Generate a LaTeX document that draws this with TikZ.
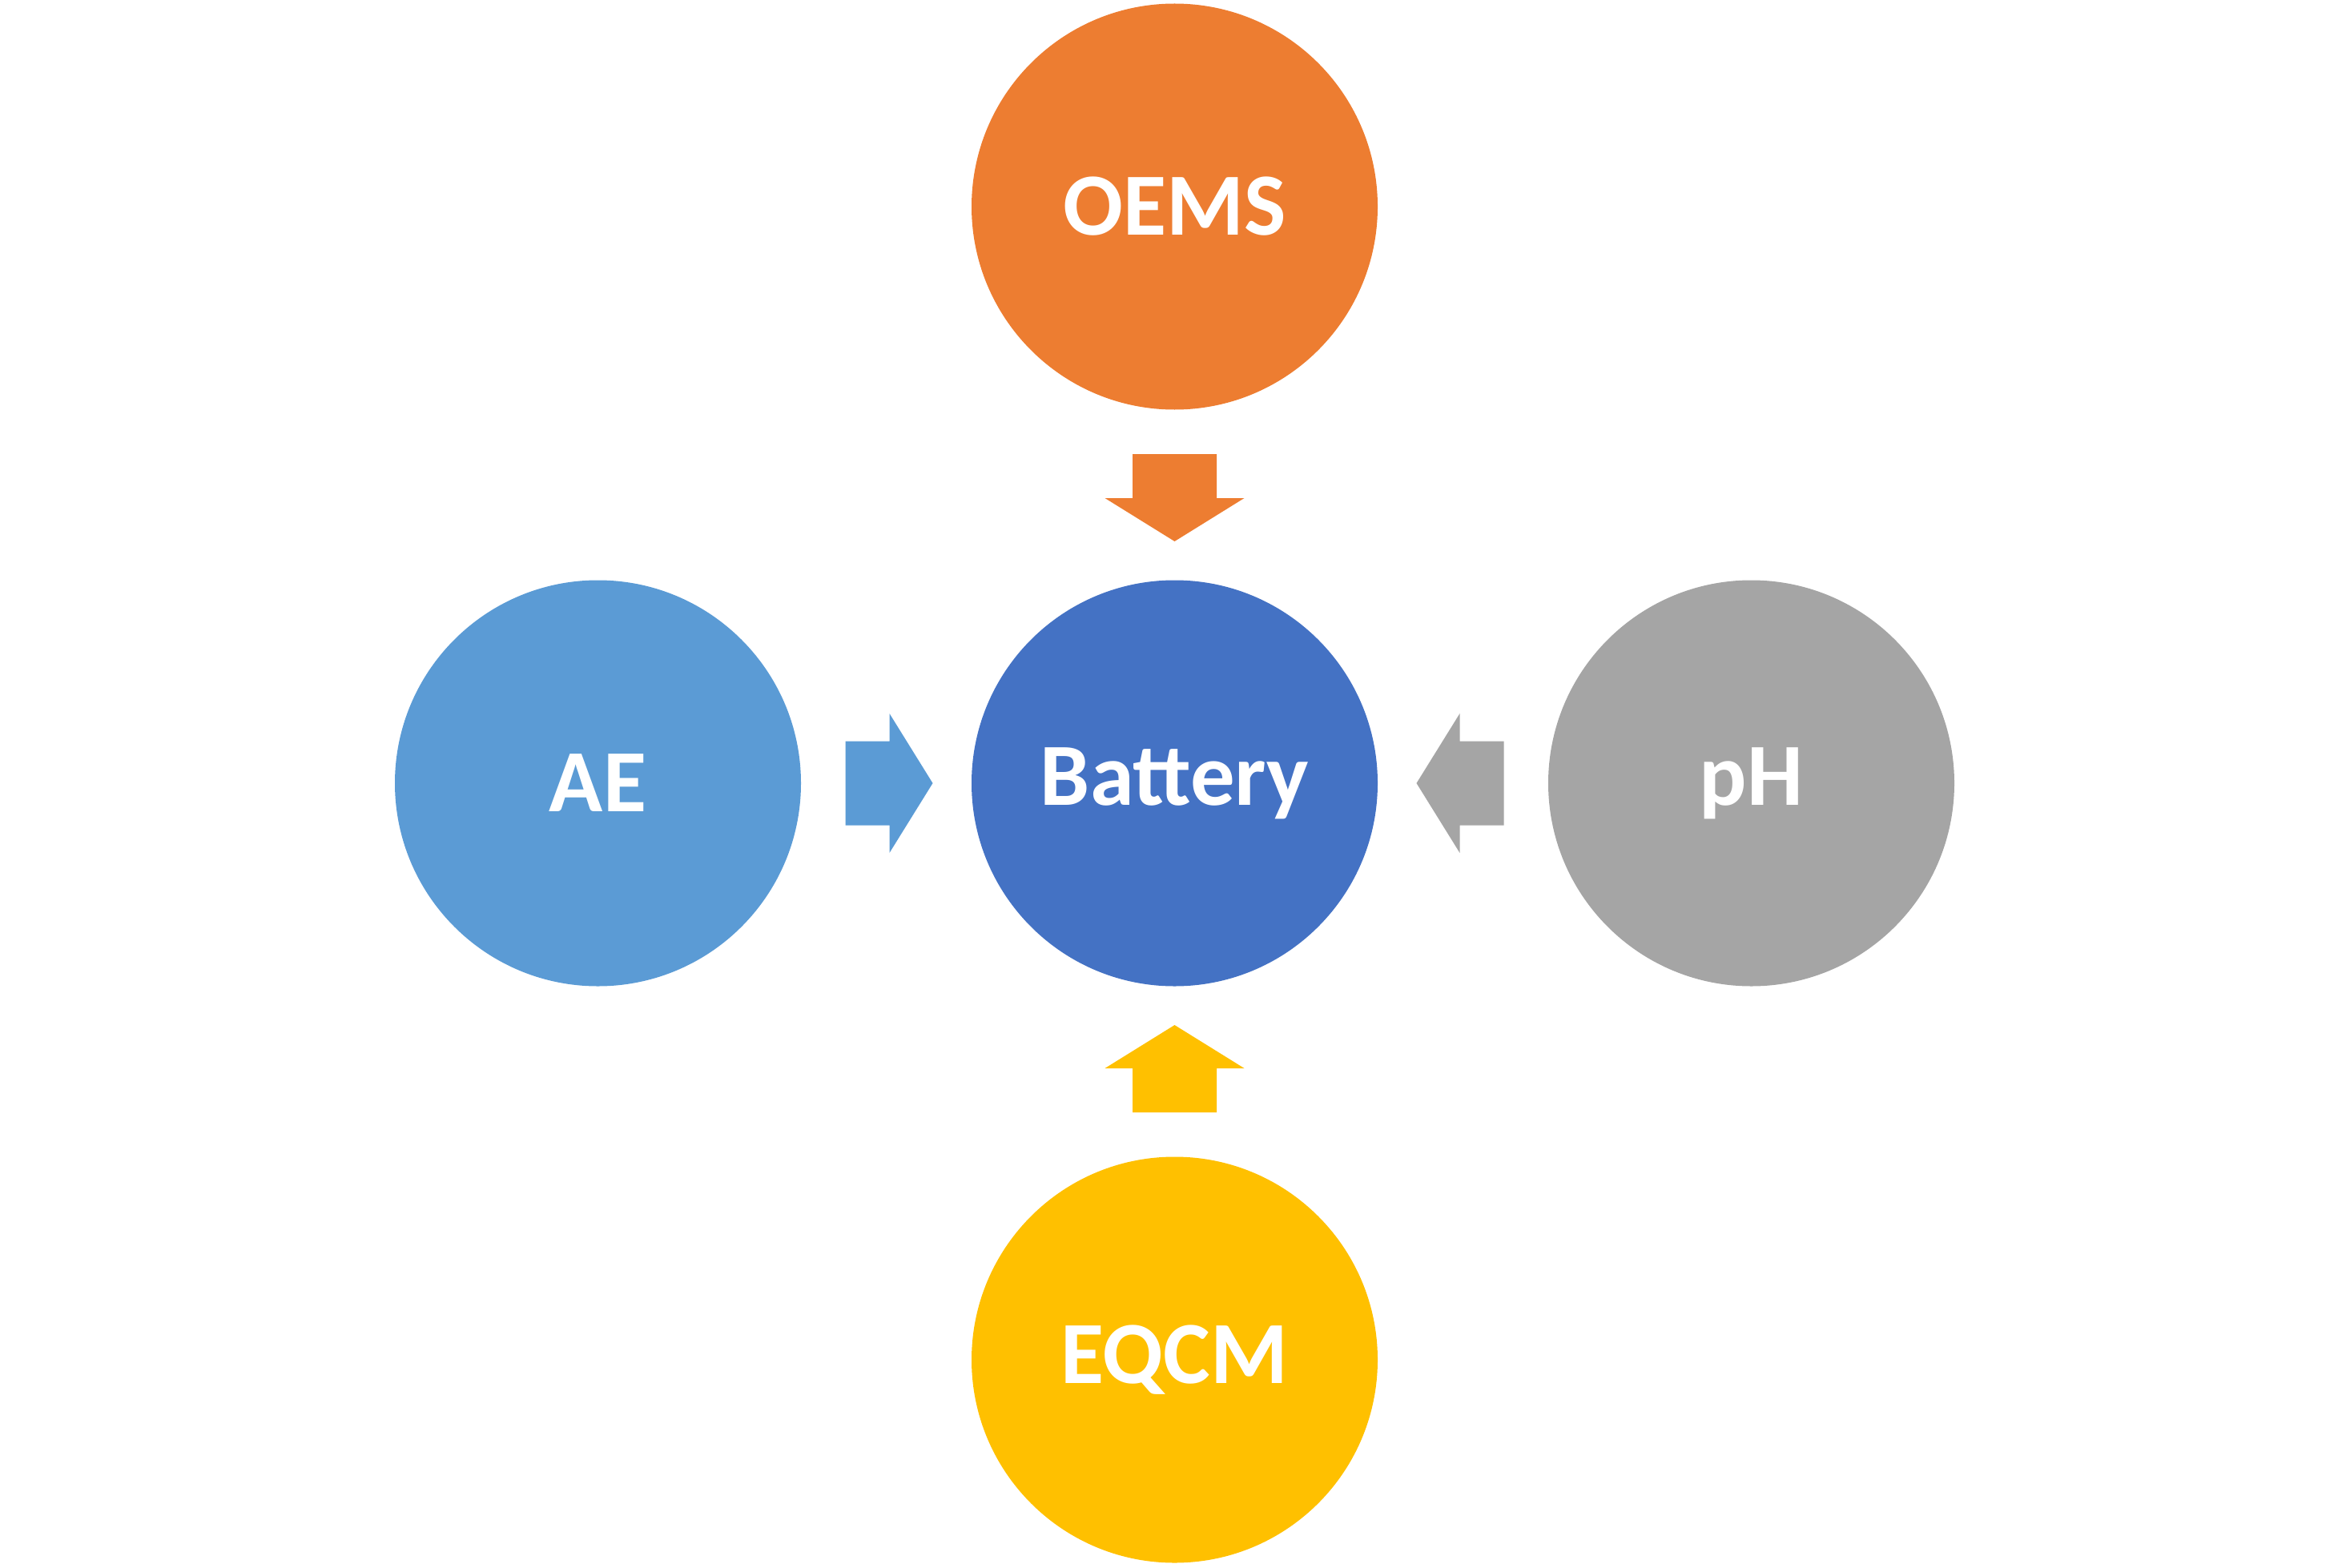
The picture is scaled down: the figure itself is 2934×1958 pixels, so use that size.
\documentclass[tikz,border=0pt]{standalone}
\usepackage{fontspec}
\setmainfont{Carlito}
\usetikzlibrary{calc}
\definecolor{oemsorange}{HTML}{ED7D31}
\definecolor{batblue}{HTML}{4472C4}
\definecolor{aeblue}{HTML}{5B9BD5}
\definecolor{phgray}{HTML}{A5A5A5}
\definecolor{eqcmyellow}{HTML}{FFC000}
\tikzset{
  disc/.style={circle, minimum size=126.75pt, inner sep=0pt, draw=none,
    text=white, font=\fontsize{27.7}{33}\selectfont\bfseries},
}
\begin{document}
\begin{tikzpicture}[x=0.25pt, y=-0.25pt]
\useasboundingbox (0,0) rectangle (2934,1958);
\node[disc, fill=batblue]    (bat)  at (1466.5,978)  {Battery};
\node[disc, fill=oemsorange] (oems) at (1466.5,258)  {OEMS};
\node[disc, fill=aeblue]     (ae)   at (746.5,978)   {AE};
\node[disc, fill=phgray]     (ph)   at (2186.5,978)  {pH};
\node[disc, fill=eqcmyellow] (eqcm) at (1466.5,1698) {EQCM};
\foreach \ang/\col in {0/aeblue, -90/oemsorange, 180/phgray, 90/eqcmyellow}{
  \begin{scope}[shift={(bat)}, rotate=\ang]
    \fill[\col] (-411,-52.5) -- (-356,-52.5) -- (-356,-87) -- (-302,0)
      -- (-356,87) -- (-356,52.5) -- (-411,52.5) -- cycle;
  \end{scope}
}
\end{tikzpicture}
\end{document}
